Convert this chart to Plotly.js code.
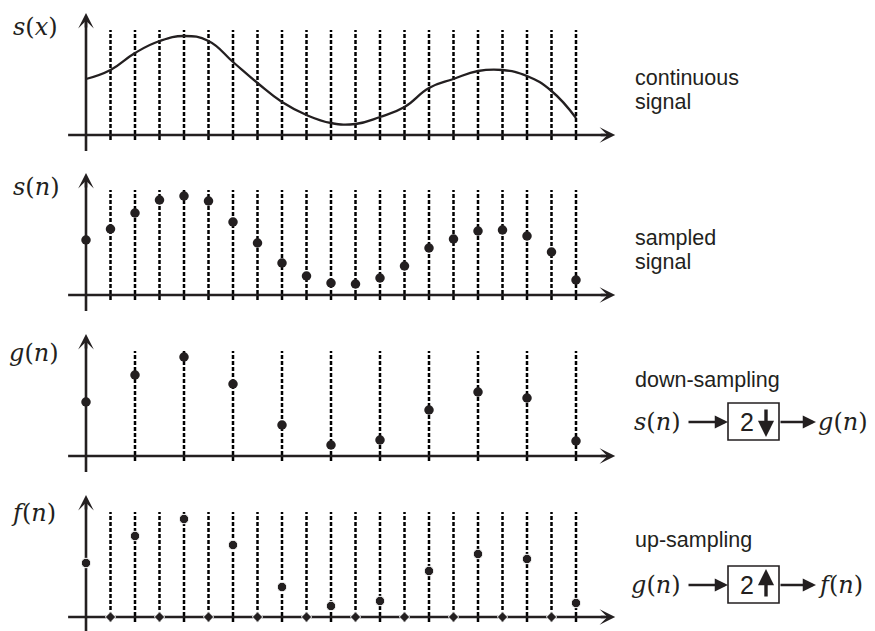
<!DOCTYPE html>
<html>
<head>
<meta charset="utf-8">
<script src="https://cdn.plot.ly/plotly-3.0.1.min.js"></script>
<style>html,body{margin:0;padding:0;background:#fff;}#chart{width:875px;height:631px;}</style>
</head>
<body>
<div id="chart"></div>
<script>
// ---- data (heights above the time axis, arbitrary units) ----
const sampleIdx = [0,1,2,3,4,5,6,7,8,9,10,11,12,13,14,15,16,17,18,19,20];
const contSignal = [0.56,0.65,0.82,0.94,0.99,0.94,0.73,0.52,0.33,0.20,0.12,0.11,0.18,0.28,0.47,0.56,0.64,0.65,0.59,0.44,0.17];
const sampled = [0.55,0.66,0.82,0.95,0.99,0.94,0.73,0.52,0.32,0.19,0.12,0.11,0.17,0.29,0.47,0.56,0.64,0.65,0.59,0.43,0.15];
const downIdx = [0,2,4,6,8,10,12,14,16,18,20];
const downSampled = [0.54,0.81,0.99,0.72,0.31,0.11,0.16,0.46,0.64,0.58,0.15];
const upSampled = [0.54,0,0.81,0,0.98,0,0.72,0,0.30,0,0.11,0,0.16,0,0.46,0,0.63,0,0.58,0,0.14];
const panelLabels = ['s','x','s','n','g','n','f','n'];
const sideTexts = [['continuous','signal'],['sampled','signal'],['down-sampling'],['up-sampling']];

const INK = '#231f20';
const W = 875, H = 631;
const yaxes = ['y','y2','y3','y4'];

function stems(idx){
  const xs=[], ys=[];
  idx.forEach(i=>{ if(i>0){ xs.push(i,i,null); ys.push(-0.05,1.05,null);} });
  return {xs, ys};
}
function axisTraces(yref){
  return [
    {x:[-0.73,21.2], y:[0,0], yaxis:yref, mode:'lines', line:{color:INK,width:2.6}, hoverinfo:'skip'},
    {x:[0,0], y:[-0.16,1.16], yaxis:yref, mode:'lines', line:{color:INK,width:2.6}, hoverinfo:'skip'}
  ];
}
function dashTrace(idx,yref){
  const s = stems(idx);
  return {x:s.xs, y:s.ys, yaxis:yref, mode:'lines', line:{color:'#000',width:2.5,dash:'4px,2px'}, hoverinfo:'skip'};
}

const traces = [];
// panel 1
traces.push(dashTrace(sampleIdx,'y'));
traces.push(...axisTraces('y'));
traces.push({x:sampleIdx, y:contSignal, yaxis:'y', mode:'lines', line:{color:INK,width:2.3,shape:'spline',smoothing:1.3}});
// panel 2
traces.push(dashTrace(sampleIdx,'y2'));
traces.push(...axisTraces('y2'));
traces.push({x:sampleIdx, y:sampled, yaxis:'y2', mode:'markers', marker:{color:INK,size:9.5,opacity:1}});
// panel 3
traces.push(dashTrace(downIdx,'y3'));
traces.push(...axisTraces('y3'));
traces.push({x:downIdx, y:downSampled, yaxis:'y3', mode:'markers', marker:{color:INK,size:9.5,opacity:1}});
// panel 4
traces.push(dashTrace(sampleIdx,'y4'));
traces.push(...axisTraces('y4'));
traces.push({x:sampleIdx, y:upSampled, yaxis:'y4', mode:'markers',
  marker:{color:INK,opacity:1,size:upSampled.map(v=>v===0?8:9.5), symbol:upSampled.map(v=>v===0?'diamond':'circle')}});

const annotations = [];
// arrowheads of the axes
yaxes.forEach(ya=>{
  annotations.push({x:21.6, y:0, xref:'x', yref:ya, ax:-16, ay:0, text:'', showarrow:true,
    arrowhead:3, arrowsize:1.0, arrowwidth:2.6, arrowcolor:INK});
  annotations.push({x:0, y:1.22, xref:'x', yref:ya, ax:0, ay:16, text:'', showarrow:true,
    arrowhead:3, arrowsize:1.0, arrowwidth:2.6, arrowcolor:INK});
});
const px = v => v/W, py = v => 1 - v/H;
const mathFont = {family:'DejaVu Serif', size:24, color:INK};
const sansFont = {family:'Liberation Sans, Arial', size:21.5, color:INK};
function mathLabel(f,a){ return '<i>'+f+'</i>(<i>'+a+'</i>)'; }
// panel labels
const labelPos = [[11,27],[11,187],[7,353],[9,513]];
labelPos.forEach((p,k)=>{
  annotations.push({x:px(p[0]), y:py(p[1]), xref:'paper', yref:'paper', xanchor:'left', yanchor:'middle',
    text:mathLabel(panelLabels[2*k],panelLabels[2*k+1]), showarrow:false, font:mathFont});
});
// side texts
const sidePos = [[78,102],[238,262],[380],[540]];
sideTexts.forEach((lines,k)=>{
  lines.forEach((t,j)=>{
    annotations.push({x:px(633), y:py(sidePos[k][j]), xref:'paper', yref:'paper', xanchor:'left', yanchor:'middle',
      text:t, showarrow:false, font:sansFont});
  });
});
// block diagrams
const shapes = [];
function block(cy, inLab, outLab, up){
  const top = cy-19, bot = cy+18;
  shapes.push({type:'rect', xref:'paper', yref:'paper', x0:px(728), x1:px(779), y0:py(bot), y1:py(top),
    line:{color:INK,width:1.6}});
  annotations.push({x:px(683), y:py(cy), xref:'paper', yref:'paper', xanchor:'right', yanchor:'middle',
    text:mathLabel(inLab[0],inLab[1]), showarrow:false, font:mathFont});
  annotations.push({x:px(816), y:py(cy), xref:'paper', yref:'paper', xanchor:'left', yanchor:'middle',
    text:mathLabel(outLab[0],outLab[1]), showarrow:false, font:mathFont});
  annotations.push({x:px(728), y:py(cy), xref:'paper', yref:'paper', ax:-41, ay:0, text:'', showarrow:true,
    arrowhead:2, arrowsize:1.15, arrowwidth:2.3, arrowcolor:INK});
  annotations.push({x:px(816), y:py(cy), xref:'paper', yref:'paper', ax:-37, ay:0, text:'', showarrow:true,
    arrowhead:2, arrowsize:1.15, arrowwidth:2.3, arrowcolor:INK});
  annotations.push({x:px(747), y:py(cy), xref:'paper', yref:'paper', xanchor:'center', yanchor:'middle',
    text:'2', showarrow:false, font:{family:'Liberation Sans, Arial', size:25, color:INK}});
  if(up){
    annotations.push({x:px(766), y:py(top+3), xref:'paper', yref:'paper', ax:0, ay:29, text:'', showarrow:true,
      arrowhead:2, arrowsize:0.95, arrowwidth:3.4, arrowcolor:INK});
  } else {
    annotations.push({x:px(766), y:py(bot-3), xref:'paper', yref:'paper', ax:0, ay:-29, text:'', showarrow:true,
      arrowhead:2, arrowsize:0.95, arrowwidth:3.4, arrowcolor:INK});
  }
}
block(422, ['s','n'], ['g','n'], false);
block(585, ['g','n'], ['f','n'], true);

const layout = {
  width:W, height:H, margin:{l:0,r:0,t:0,b:0}, showlegend:false,
  paper_bgcolor:'#fff', plot_bgcolor:'#fff',
  xaxis:{range:[-86/24.5,(W-86)/24.5], visible:false, fixedrange:true},
  yaxis:{domain:[1-157/H,1], range:[-0.22,1.35], visible:false, anchor:'x'},
  yaxis2:{domain:[1-317/H,1-157/H], range:[-0.22,1.38], visible:false, anchor:'x'},
  yaxis3:{domain:[1-478/H,1-317/H], range:[-0.22,1.39], visible:false, anchor:'x'},
  yaxis4:{domain:[0,1-478/H], range:[-0.14,1.39], visible:false, anchor:'x'},
  annotations, shapes
};
Plotly.newPlot('chart', traces, layout, {staticPlot:true, displayModeBar:false});
</script>
</body>
</html>
